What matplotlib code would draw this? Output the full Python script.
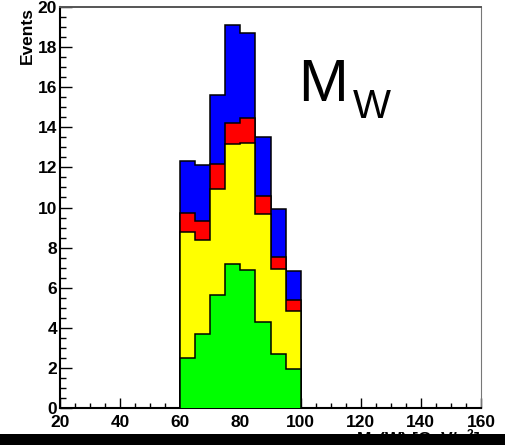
import numpy as np
import matplotlib
matplotlib.use("Agg")
import matplotlib.pyplot as plt
from matplotlib.patches import Rectangle
from matplotlib.ticker import MultipleLocator

plt.rcParams['font.family'] = ['Liberation Sans', 'DejaVu Sans']
plt.rcParams['mathtext.fontset'] = 'custom'
plt.rcParams['mathtext.rm'] = 'Liberation Sans:bold'
plt.rcParams['mathtext.it'] = 'Liberation Sans:bold'
plt.rcParams['mathtext.bf'] = 'Liberation Sans:bold'

# binning of M_T(W), 5 GeV bins
bin_edges = [60, 65, 70, 75, 80, 85, 90, 95, 100]

# stacked components (bottom to top)
green = [2.48, 3.67, 5.62, 7.18, 6.87, 4.31, 2.71, 1.93]
yellow = [6.31, 4.71, 5.32, 6.00, 6.36, 5.38, 4.21, 2.89]
red = [0.92, 0.93, 1.25, 1.05, 1.25, 0.90, 0.59, 0.58]
blue = [2.59, 2.79, 3.42, 4.86, 4.21, 2.94, 2.40, 1.43]

layers = [green, yellow, red, blue]
colors = ['#00ff00', '#ffff00', '#ff0000', '#0000ff']

x_ticks = [20, 40, 60, 80, 100, 120, 140, 160]
y_ticks = [0, 2, 4, 6, 8, 10, 12, 14, 16, 18, 20]

W, H = 506, 445
fig = plt.figure(figsize=(W / 100, H / 100), dpi=100)
ax = fig.add_axes([60 / W, (H - 408) / H, 421 / W, 401 / H])

# THStack style: draw cumulative totals from the top down
cum = np.cumsum(np.array(layers), axis=0)
for i in range(len(layers) - 1, -1, -1):
    ax.stairs(cum[i], bin_edges, baseline=0, fill=True, color=colors[i], zorder=2 + (3 - i) * 2)
    ax.stairs(cum[i], bin_edges, baseline=0, fill=False, color='black', lw=1.1,
              zorder=3 + (3 - i) * 2)

ax.set_xlim(20, 160)
ax.set_ylim(0, 20)
ax.set_xticks(x_ticks)
ax.set_yticks(y_ticks)
ax.xaxis.set_minor_locator(MultipleLocator(5))
ax.yaxis.set_minor_locator(MultipleLocator(0.5))

ax.tick_params(axis='both', which='both', direction='in', top=False, right=False,
               width=1.0, color='black')
ax.tick_params(axis='x', which='major', length=7.2, pad=5, labelsize=12.5)
ax.tick_params(axis='x', which='minor', length=3.6)
ax.tick_params(axis='y', which='major', length=8.6, pad=2, labelsize=12.5)
ax.tick_params(axis='y', which='minor', length=4.3)
for lab in ax.get_xticklabels() + ax.get_yticklabels():
    lab.set_fontweight('bold')

ax.spines['left'].set_linewidth(1.5)
ax.spines['bottom'].set_linewidth(1.5)
ax.spines['top'].set_color('#555555')
ax.spines['top'].set_linewidth(1.4)
ax.spines['right'].set_color('#777777')
ax.spines['right'].set_linewidth(0.8)

ax.set_ylabel('Events', fontsize=12.5, fontweight='bold', loc='top', labelpad=2)

fig.text(481 / W, (H - 427) / H, r'M$_{T}$(W) [GeV/c$^{2}$]', ha='right', va='top',
         fontsize=12.5, fontweight='bold')

# big label
fig.text(298 / W, (H - 101) / H, 'M', fontsize=43, ha='left', va='baseline')
fig.text(353 / W, (H - 118) / H, 'W', fontsize=29, ha='left', va='baseline')

# black strip along the bottom of the canvas
fig.patches.append(Rectangle((0, 0), 1, (H - 434) / H, transform=fig.transFigure,
                             facecolor='black', edgecolor='none', zorder=10))

fig.savefig('out.png', dpi=100)
